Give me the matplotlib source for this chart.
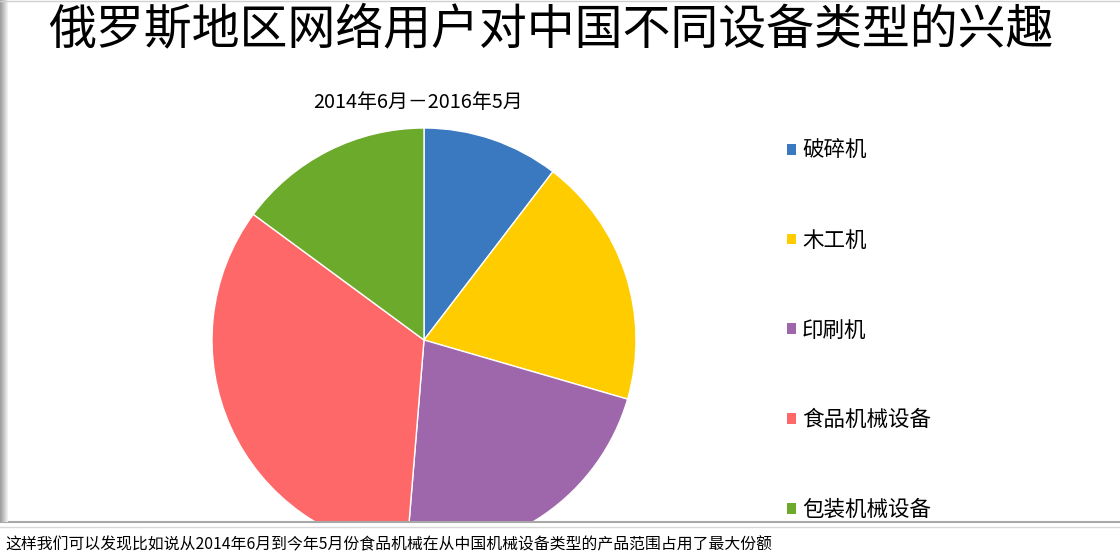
import matplotlib
matplotlib.use("Agg")
import matplotlib.pyplot as plt
from matplotlib.patches import Rectangle, Patch
from matplotlib.lines import Line2D

plt.rcParams['font.family'] = ['Noto Sans CJK SC', 'DejaVu Sans']

title = "俄罗斯地区网络用户对中国不同设备类型的兴趣"
subtitle = "2014年6月－2016年5月"
caption = "这样我们可以发现比如说从2014年6月到今年5月份食品机械在从中国机械设备类型的产品范围占用了最大份额"

categories = ["破碎机", "木工机", "印刷机", "食品机械设备", "包装机械设备"]
shares = [10.4, 19.1, 21.8, 33.8, 14.9]
colors = ["#3A78C0", "#FFCC00", "#9E66AB", "#FF6868", "#6BAA2A"]

W, H = 1120, 560
fig = plt.figure(figsize=(W / 100, H / 100), dpi=100)
fig.patch.set_facecolor("white")

# pie axes: centre (424, 340) px from top-left, radius 212 px
cx, cy, r = 424, 340, 212
ax = fig.add_axes([(cx - r) / W, (H - cy - r) / H, 2 * r / W, 2 * r / H])
wedges, _ = ax.pie(shares, colors=colors, startangle=90, counterclock=False,
                   wedgeprops=dict(edgecolor="white", linewidth=1.0))
ax.set_xlim(-1, 1)
ax.set_ylim(-1, 1)
ax.set_aspect("equal")
ax.axis("off")

fig.text(551 / W, 1 - 29.5 / H, title, fontsize=34.5, ha="center", va="center", color="black")
fig.text(418 / W, 1 - 103 / H, subtitle, fontsize=14.3, ha="center", va="center", color="black")

handles = [Patch(facecolor=c, edgecolor="none") for c in colors]
leg = ax.legend(handles, categories, loc="center left",
                bbox_to_anchor=(787 / W, 1 - 330.5 / H), bbox_transform=fig.transFigure,
                frameon=False, fontsize=15.5, labelspacing=3.15, borderpad=0, borderaxespad=0,
                handlelength=0.4, handleheight=0.4, handletextpad=0.3)

# bottom caption bar covering lower part of pie
fig.add_artist(Rectangle((0, 0), 1, (H - 522) / H, transform=fig.transFigure,
                         facecolor="white", edgecolor="none", zorder=5))
fig.add_artist(Line2D([0, 1], [(H - 522) / H] * 2, transform=fig.transFigure,
                      color="#A8A8A8", linewidth=1.5, zorder=6))
fig.add_artist(Line2D([0, 1], [(H - 527) / H] * 2, transform=fig.transFigure,
                      color="#D8D8D8", linewidth=1.0, zorder=6))
# left grey border
for i, c in enumerate(["#A0A0A0", "#A8A8A8", "#B4B4B4", "#C0C0C0", "#CCCCCC", "#D8D8D8", "#E4E4E4", "#F0F0F0"]):
    fig.add_artist(Rectangle((i / W, (H - 522) / H), 1 / W, 522 / H, transform=fig.transFigure,
                             facecolor=c, edgecolor="none", zorder=6))
fig.add_artist(Line2D([0, 1], [1 - 0.5 / H] * 2, transform=fig.transFigure,
                      color="#D0D0D0", linewidth=1.0, zorder=6))

fig.text(5 / W, 1 - 545 / H, caption, fontsize=11.4, ha="left", va="center", color="black", zorder=7)

fig.savefig("out.png", dpi=100)
